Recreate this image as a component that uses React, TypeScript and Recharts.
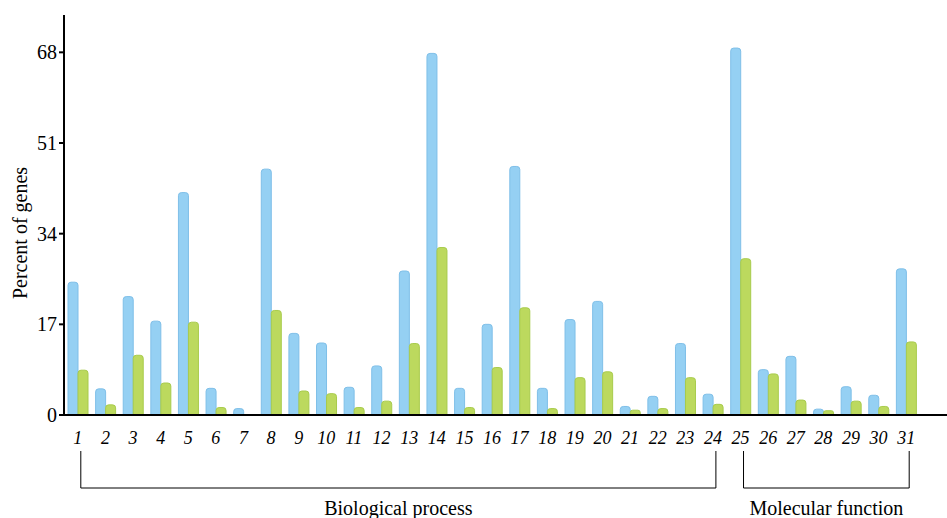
import React from 'react';
import { BarChart, Bar, XAxis, YAxis } from 'recharts';

const categories = [
   '1', '2', '3', '4', '5', '6', '7', '8', '9', '10', '11', '12', '13', '14', '15', '16',
   '17', '18', '19', '20', '21', '22', '23', '24', '25', '26', '27', '28', '29', '30', '31'
];

const blueValues = [
   24.9, 4.9, 22.2, 17.6, 41.7, 5.0, 1.2, 46.1, 15.3, 13.5, 5.2, 9.2, 27.0, 67.8, 5.0, 17.0,
   46.6, 5.0, 17.9, 21.3, 1.6, 3.5, 13.4, 3.9, 68.8, 8.5, 11.0, 1.1, 5.3, 3.7, 27.4
];

const greenValues = [
   8.4, 1.9, 11.2, 6.0, 17.4, 1.4, 0, 19.6, 4.5, 4.0, 1.4, 2.6, 13.4, 31.4, 1.4, 8.9,
   20.1, 1.2, 7.0, 8.1, 0.9, 1.2, 7.0, 2.0, 29.3, 7.7, 2.8, 0.8, 2.6, 1.6, 13.7
];

const yTicks = [0, 17, 34, 51, 68];

const groups = [
   { name: 'Biological process', from: 0, to: 23 },
   { name: 'Molecular function', from: 24, to: 30 }
];

const data = categories.map((c, i) => ({ cat: c, blue: blueValues[i], green: greenValues[i] }));

// layout
const W = 947;
const H = 518;
const LEFT = 64;
const PAD_RIGHT = 27;
const FONT = '"Liberation Serif", "Times New Roman", serif';

const band = (W - LEFT - PAD_RIGHT) / categories.length;
const catX = (i: number) => LEFT + band * (i + 0.5) + 3;

export default function App() {
   return (
      <div style={{ position: 'absolute', left: 0, top: 0, width: W, height: H, background: '#fff' }}>
         <BarChart
            width={W}
            height={H}
            data={data}
            margin={{ top: 15, right: 0, left: 0, bottom: 73 }}
            barGap={0}
            barSize={10}
         >
            <XAxis
               dataKey='cat'
               height={30}
               interval={0}
               padding={{ left: 0, right: PAD_RIGHT }}
               tickLine={false}
               tickMargin={10}
               axisLine={{ stroke: '#000', strokeWidth: 2 }}
               tick={{ fill: '#000', fontSize: 18, fontStyle: 'italic', fontFamily: FONT }}
            />
            <YAxis
               width={LEFT}
               domain={[0, 75]}
               ticks={yTicks}
               tickSize={5}
               axisLine={{ stroke: '#000', strokeWidth: 2 }}
               tickLine={{ stroke: '#000', strokeWidth: 2 }}
               tick={{ fill: '#000', fontSize: 20, fontFamily: FONT }}
            />
            <Bar
               dataKey='blue'
               fill='#95d0f3'
               stroke='#7fbfe8'
               strokeWidth={1}
               radius={[3, 3, 0, 0]}
               isAnimationActive={false}
            />
            <Bar
               dataKey='green'
               fill='#bcd95e'
               stroke='#a8cb4c'
               strokeWidth={1}
               radius={[3, 3, 0, 0]}
               isAnimationActive={false}
            />
         </BarChart>
         <svg
            width={W}
            height={H}
            style={{ position: 'absolute', left: 0, top: 0, pointerEvents: 'none' }}
         >
            <text
               x={20}
               y={233}
               transform='rotate(-90 20 233)'
               textAnchor='middle'
               dominantBaseline='central'
               fontSize={20}
               fontFamily={FONT}
               fill='#000'
            >
               Percent of genes
            </text>
            {groups.map((g) => {
               const x1 = catX(g.from);
               const x2 = catX(g.to);
               return (
                  <g key={g.name}>
                     <polyline
                        points={`${x1},451 ${x1},488 ${x2},488 ${x2},451`}
                        fill='none'
                        stroke='#000'
                        strokeWidth={1}
                     />
                     <text
                        x={(x1 + x2) / 2}
                        y={508}
                        textAnchor='middle'
                        dominantBaseline='central'
                        fontSize={20}
                        fontFamily={FONT}
                        fill='#000'
                     >
                        {g.name}
                     </text>
                  </g>
               );
            })}
         </svg>
      </div>
   );
}
